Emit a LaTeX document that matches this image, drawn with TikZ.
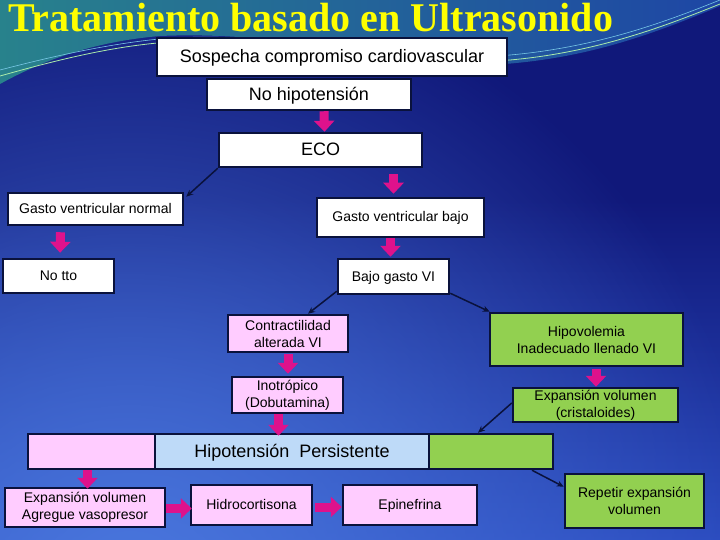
\documentclass[tikz,border=0pt]{standalone}
\usepackage{fontspec}
\setmainfont{Liberation Sans}
\newfontfamily\titlefont{Liberation Serif}
\usetikzlibrary{arrows.meta,calc,fadings}
\definecolor{navy}{RGB}{16,24,122}
\definecolor{lowc}{RGB}{42,74,190}
\definecolor{glowc}{RGB}{75,120,222}
\definecolor{teal1}{RGB}{40,130,140}
\definecolor{blue2}{RGB}{30,70,165}
\definecolor{bdr}{RGB}{10,18,60}
\definecolor{pinkfill}{RGB}{255,204,255}
\definecolor{greenfill}{RGB}{146,208,80}
\definecolor{bluefill}{RGB}{190,218,248}
\definecolor{magentaA}{RGB}{222,18,140}
\definecolor{ttlyellow}{RGB}{255,255,0}
\definecolor{swl}{RGB}{170,235,170}
\definecolor{swc}{RGB}{120,200,230}
\tikzfading[name=glowfade, inner color=transparent!0, outer color=transparent!100]
\begin{document}
\begin{tikzpicture}[x=1pt,y=-1pt,
  box/.style={draw=bdr, line width=2.5pt, inner sep=0pt, align=center, font=\fontsize{14}{17}\selectfont, text=black},
  wbox/.style={box, fill=white},
  pbox/.style={box, fill=pinkfill},
  gbox/.style={box, fill=greenfill},
  bbox/.style={box, fill=bluefill},
  big/.style={font=\fontsize{18}{21}\selectfont, text height=13pt, text depth=1.5pt},
  oneline/.style={text height=10pt, text depth=1pt},
  pk/.style={draw=magentaA, line width=9pt, -{Triangle[width=20pt,length=11pt]}},
  dk/.style={draw=bdr, line width=1.5pt, -{Stealth[length=7pt,width=6pt]}},
]
\useasboundingbox (0,0) rectangle (720,540);
% background
\fill[navy] (0,0) rectangle (720,540);
\shade[top color=navy, bottom color=lowc] (0,200) rectangle (720,540);
\begin{scope}
\clip (0,0) rectangle (720,540);
\fill[glowc, path fading=glowfade] (130,600) circle (640);
\end{scope}
\shade[left color=teal1, right color=blue2] (0,0) -- (720,0) -- (720,6) .. controls (640,40) and (580,58) .. (505,64) .. controls (420,70) and (300,30) .. (160,36) .. controls (90,42) and (40,62) .. (0,84) -- cycle;
\draw[swl, line width=0.8pt] (0,76) .. controls (50,62) and (110,46) .. (170,42) .. controls (300,36) and (420,66) .. (510,60) .. controls (600,52) and (670,24) .. (720,4);
\draw[swc, line width=0.6pt] (0,70) .. controls (50,57) and (110,43) .. (170,38) .. controls (300,32) and (420,62) .. (510,55) .. controls (600,47) and (670,20) .. (720,0);
% title
\node[anchor=base west, inner sep=0pt, text=ttlyellow, font=\titlefont\bfseries\fontsize{40}{40}\selectfont, yscale=1.02] (title) at (8,32) {Tratamiento basado en Ultrasonido};
% nodes
\node[wbox, big, minimum width=350, minimum height=38] (sosp) at (332,57) {Sospecha compromiso cardiovascular};
\node[wbox, big, minimum width=204, minimum height=31] (nohip) at (309,94.5) {No hipotensión};
\node[wbox, big, minimum width=203, minimum height=34] (eco) at (320.5,150) {ECO};
\node[wbox, oneline, minimum width=175, minimum height=32] (gnorm) at (95.5,209) {Gasto ventricular normal};
\node[wbox, oneline, minimum width=167, minimum height=39] (gbajo) at (400.5,217.5) {Gasto ventricular bajo};
\node[wbox, oneline, minimum width=111, minimum height=34] (notto) at (58.5,276) {No tto};
\node[wbox, oneline, minimum width=111, minimum height=35] (bgvi) at (393.5,276.5) {Bajo gasto VI};
\node[pbox, minimum width=120, minimum height=37] (contr) at (288,333.5) {Contractilidad\\alterada VI};
\node[gbox, minimum width=193, minimum height=53] (hipov) at (586.5,339.5) {Hipovolemia\\Inadecuado llenado VI};
\node[pbox, minimum width=111, minimum height=36] (inot) at (287.5,395) {Inotrópico\\(Dobutamina)};
\node[gbox, minimum width=165, minimum height=34] (expc) at (595.5,405) {Expansión volumen\\(cristaloides)};
\node[pbox, minimum width=127, minimum height=35] (hpink) at (91.5,451.5) {};
\node[bbox, big, minimum width=274, minimum height=35] (hblue) at (292,451.5) {Hipotensión\ \ Persistente};
\node[gbox, minimum width=124, minimum height=35] (hgreen) at (491,451.5) {};
\node[pbox, minimum width=160, minimum height=39] (expv) at (85,507.5) {Expansión volumen\\Agregue vasopresor};
\node[pbox, oneline, minimum width=121, minimum height=40] (hidro) at (251.5,505) {Hidrocortisona};
\node[pbox, oneline, minimum width=134, minimum height=40] (epin) at (410,505) {Epinefrina};
\node[gbox, minimum width=139, minimum height=54] (repet) at (634.5,501) {Repetir expansión\\volumen};
% thin connectors
\draw[dk] (eco.south west) -- ([xshift=2,yshift=-5]gnorm.north east);
\draw[dk] ([yshift=4]bgvi.south west) -- ([xshift=20]contr.north);
\draw[dk] ([yshift=2]bgvi.south east) -- ([xshift=1]hipov.north west);
\draw[dk] ([yshift=2]expc.west) -- ([xshift=-13]hgreen.north);
\draw[dk] ([xshift=41]hgreen.south) -- ([yshift=-14]repet.north west);
% pink block arrows
\draw[pk] ([xshift=15]nohip.south) -- ([xshift=4]eco.north);
\draw[pk, shorten <=6pt, shorten >=3pt] ([xshift=-7]gbajo.north |- eco.south) -- ([xshift=-7]gbajo.north);
\draw[pk, shorten <=6pt, shorten >=5pt] ([xshift=-35]gnorm.south) -- ([xshift=1.5]notto.north);
\draw[pk, shorten >=1pt] ([xshift=-10]gbajo.south) -- ([xshift=-3]bgvi.north);
\draw[pk, shorten <=1pt, shorten >=2pt] (contr.south) -- (contr.south |- inot.north);
\draw[pk, shorten >=-3pt] ([xshift=-9]inot.south) -- ([xshift=-9]inot.south |- hblue.north);
\draw[pk, shorten <=2pt] ([xshift=9.5]hipov.south) -- ([xshift=9.5]hipov.south |- expc.north);
\draw[pk, shorten >=-2pt] ([xshift=-4]hpink.south) -- ([xshift=-4]hpink.south |- expv.north);
\draw[pk, shorten >=-2pt] ([yshift=-1]expv.east) -- ([yshift=-1]expv.east -| hidro.west);
\draw[pk, shorten <=2pt] ([yshift=-2]hidro.east) -- ([yshift=-2]hidro.east -| epin.west);
\end{tikzpicture}
\end{document}
